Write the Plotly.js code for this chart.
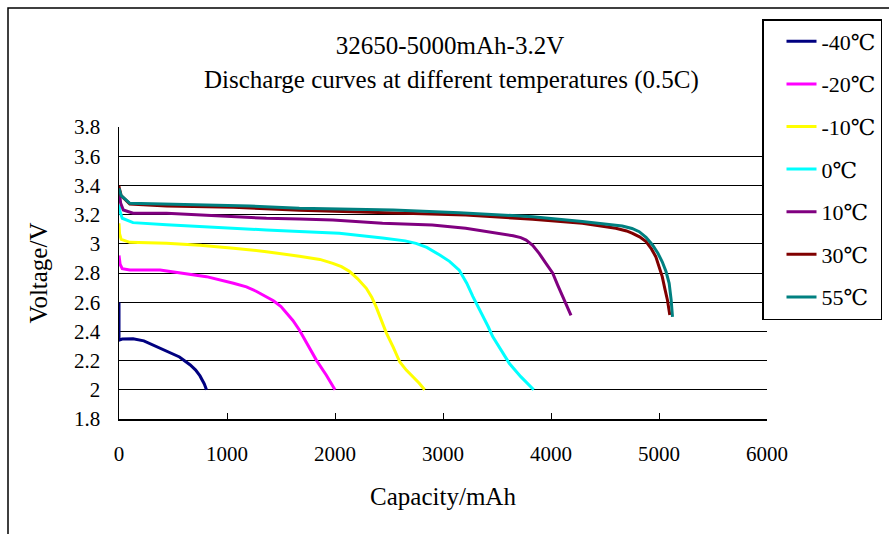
<!DOCTYPE html>
<html><head><meta charset="utf-8">
<script src="https://cdn.plot.ly/plotly-3.0.1.min.js"></script>
<style>html,body{margin:0;padding:0;background:#fff;}#chart{width:889px;height:534px;}</style>
</head><body><div id="chart"></div>
<script>
const seriesNames = ['-40℃', '-20℃', '-10℃', '0℃', '10℃', '30℃', '55℃'];
const seriesColors = ['#000080', '#FF00FF', '#FFFF00', '#00FFFF', '#800080', '#800000', '#008080'];

const capM40 = [0, 0, 30, 130, 230, 380, 470, 560, 660, 710, 750, 790, 810];
const volM40 = [2.60, 2.34, 2.348, 2.35, 2.335, 2.285, 2.258, 2.225, 2.17, 2.135, 2.095, 2.04, 2.0];

const capM20 = [0, 10, 30, 100, 380, 600, 810, 1060, 1180, 1270, 1350, 1430, 1500, 1550, 1610, 1670, 1750, 1830, 1920, 2000];
const volM20 = [2.92, 2.86, 2.83, 2.82, 2.82, 2.795, 2.775, 2.73, 2.705, 2.675, 2.645, 2.61, 2.57, 2.53, 2.475, 2.41, 2.31, 2.2, 2.1, 2.0];

const capM10 = [0, 5, 20, 100, 440, 750, 1060, 1365, 1670, 1860, 1980, 2060, 2136, 2210, 2290, 2340, 2380, 2430, 2475, 2540, 2600, 2660, 2720, 2780, 2830];
const volM10 = [3.14, 3.07, 3.03, 3.01, 3.003, 2.99, 2.97, 2.946, 2.915, 2.893, 2.866, 2.843, 2.81, 2.76, 2.695, 2.635, 2.57, 2.48, 2.39, 2.29, 2.19, 2.135, 2.09, 2.045, 2.0];

const cap0 = [0, 10, 30, 130, 440, 750, 1060, 1365, 1670, 2040, 2440, 2650, 2750, 2850, 2970, 3060, 3150, 3220, 3276, 3330, 3370, 3420, 3460, 3540, 3615, 3720, 3840];
const vol0 = [3.27, 3.22, 3.175, 3.145, 3.13, 3.117, 3.106, 3.095, 3.085, 3.072, 3.04, 3.02, 3.003, 2.975, 2.923, 2.88, 2.82, 2.73, 2.64, 2.565, 2.50, 2.43, 2.364, 2.27, 2.18, 2.09, 2.0];

const cap10 = [0, 15, 40, 130, 440, 900, 1365, 1670, 1980, 2440, 2900, 3210, 3520, 3650, 3720, 3770, 3830, 3890, 3950, 4015, 4060, 4110, 4150, 4185];
const vol10 = [3.37, 3.28, 3.232, 3.21, 3.209, 3.19, 3.175, 3.17, 3.163, 3.14, 3.129, 3.106, 3.072, 3.055, 3.042, 3.026, 2.99, 2.935, 2.87, 2.80, 2.72, 2.64, 2.57, 2.51];

const cap30 = [0, 0, 20, 100, 440, 1060, 1670, 2120, 2600, 3210, 3830, 4290, 4600, 4700, 4755, 4820, 4880, 4930, 4970, 5000, 5030, 5055, 5078, 5100];
const vol30 = [3.40, 3.39, 3.33, 3.273, 3.259, 3.25, 3.23, 3.22, 3.209, 3.197, 3.168, 3.14, 3.106, 3.088, 3.072, 3.048, 3.015, 2.965, 2.912, 2.85, 2.775, 2.69, 2.615, 2.512];

const cap55 = [0, 20, 100, 750, 1210, 1670, 2120, 2540, 3150, 3830, 4290, 4660, 4750, 4817, 4880, 4940, 4990, 5030, 5065, 5094, 5112, 5125];
const vol55 = [3.38, 3.33, 3.277, 3.266, 3.259, 3.243, 3.236, 3.232, 3.213, 3.186, 3.152, 3.122, 3.105, 3.083, 3.045, 2.992, 2.935, 2.877, 2.81, 2.729, 2.62, 2.50];

const xTickVals = [0, 1000, 2000, 3000, 4000, 5000, 6000];
const yTickVals = [1.8, 2.0, 2.2, 2.4, 2.6, 2.8, 3.0, 3.2, 3.4, 3.6, 3.8];

const capData = [capM40, capM20, capM10, cap0, cap10, cap30, cap55];
const volData = [volM40, volM20, volM10, vol0, vol10, vol30, vol55];

const FONT = '"Liberation Serif", "Times New Roman", "DejaVu Serif", serif';

const traces = seriesNames.map((name, i) => ({
  type: 'scatter', mode: 'lines', name: name,
  x: capData[i], y: volData[i],
  legendgroup: 'g' + i,
  line: {color: seriesColors[i], width: 3}
}));

const layout = {
  width: 889, height: 534,
  margin: {l: 119, r: 122, t: 127, b: 115, autoexpand: false},
  paper_bgcolor: '#fff', plot_bgcolor: '#fff',
  font: {family: FONT, color: '#000', size: 21},
  title: {
    text: '32650-5000mAh-3.2V',
    font: {family: FONT, size: 25, color: '#000'},
    xref: 'container', x: 450 / 889, xanchor: 'center',
    yref: 'container', y: 1 - 45 / 534, yanchor: 'middle'
  },
  annotations: [{
    text: 'Discharge curves at different temperatures (0.5C)',
    xref: 'paper', yref: 'paper',
    x: (452 - 119) / 648, y: (419 - 80) / 292,
    xanchor: 'center', yanchor: 'middle', showarrow: false,
    font: {family: FONT, size: 25, color: '#000'}
  }],
  xaxis: {
    range: [0, 6000], tickvals: xTickVals, ticks: 'inside', ticklen: 6,
    tickcolor: '#000', showline: true, linecolor: '#000', linewidth: 1.5,
    showgrid: false, zeroline: false, ticklabelstandoff: 15,
    tickfont: {family: FONT, size: 21, color: '#000'},
    title: {text: 'Capacity/mAh', font: {family: FONT, size: 25, color: '#000'}}
  },
  yaxis: {
    range: [1.8, 3.8], tickvals: yTickVals, ticks: '',
    showline: true, linecolor: '#000', linewidth: 1.5,
    showgrid: true, gridcolor: '#000', gridwidth: 1, zeroline: false,
    ticklabelstandoff: 13, automargin: true,
    tickfont: {family: FONT, size: 21, color: '#000'},
    title: {text: 'Voltage/V', standoff: 19, font: {family: FONT, size: 25, color: '#000'}}
  },
  legend: {
    xref: 'container', yref: 'container',
    x: 762 / 889, y: 1 - 19 / 534, xanchor: 'left', yanchor: 'top',
    bgcolor: '#fff', bordercolor: '#000', borderwidth: 1.5,
    font: {family: FONT, size: 22, color: '#000'},
    traceorder: 'grouped', tracegroupgap: 11, indentation: 18,
    maxheight: 400
  },
  shapes: [{
    type: 'rect', xref: 'paper', yref: 'paper', layer: 'below',
    x0: (8 - 119) / 648, x1: (900 - 119) / 648,
    y0: (419 - 545) / 292, y1: (419 - 8) / 292,
    line: {color: '#000', width: 1.5}, fillcolor: 'rgba(0,0,0,0)'
  }],
  showlegend: true
};

Plotly.newPlot('chart', traces, layout, {displayModeBar: false, staticPlot: true});
</script>
</body></html>
